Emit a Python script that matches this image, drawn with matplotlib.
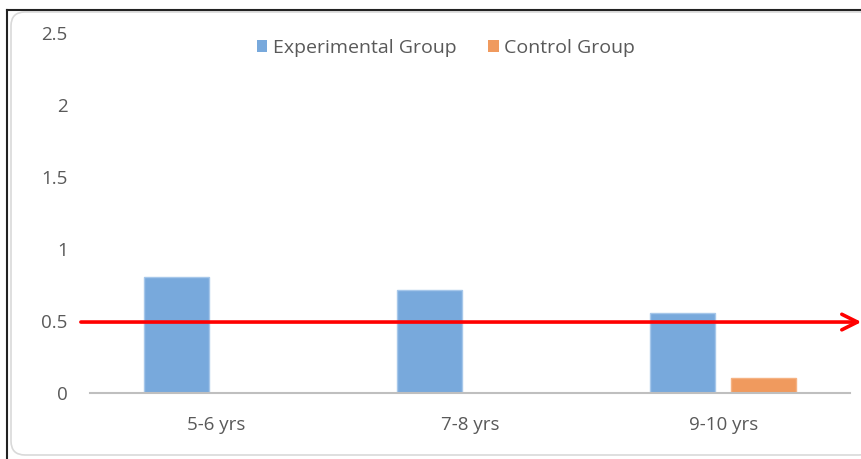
import matplotlib
matplotlib.use("Agg")
import matplotlib.pyplot as plt
import numpy as np
from matplotlib.patches import FancyBboxPatch, Patch
from matplotlib.lines import Line2D
from matplotlib.transforms import IdentityTransform

categories = ["5-6 yrs", "7-8 yrs", "9-10 yrs"]
experimental = [0.80, 0.71, 0.55]
control = [0.0, 0.0, 0.10]
threshold = 0.49
yticks = [0, 0.5, 1, 1.5, 2, 2.5]
ytick_labels = ["0", "0.5", "1", "1.5", "2", "2.5"]
series_names = ["Experimental Group", "Control Group"]

plt.rcParams['font.family'] = ['Open Sans', 'DejaVu Sans']
W, H = 862, 459
fig = plt.figure(figsize=(W / 100, H / 100), dpi=100)
fig.patch.set_facecolor("white")

# rounded chart-area border
box = FancyBboxPatch((11, 4), 862, H - 16, boxstyle="round,pad=0,rounding_size=14",
                     transform=IdentityTransform(), facecolor="white",
                     edgecolor="#D9D9D9", lw=1.2, zorder=-5)
fig.patches.append(box)
# outer black frame lines
fig.add_artist(Line2D([7, W], [H - 10, H - 10], transform=IdentityTransform(),
                      color="#222222", lw=1.5))
fig.add_artist(Line2D([7, 7], [0, H - 10], transform=IdentityTransform(),
                      color="#222222", lw=1.5))

ax = fig.add_axes([90 / W, 1 - 392.5 / H, 760 / W, (392.5 - 33) / H])
ax.set_facecolor("none")
ax.set_zorder(2)
x = np.arange(len(categories))
bw = 0.257
off = 0.16
blue = "#78A9DC"
orange = "#F09A5E"
ax.bar(x - off, experimental, bw, color=blue, edgecolor="#A6C7EA", lw=1.0, zorder=2)
ctrl_x = [xi + off for xi, v in zip(x, control) if v > 0]
ctrl_v = [v for v in control if v > 0]
ax.bar(ctrl_x, ctrl_v, bw, color=orange, edgecolor="#F5B282", lw=1.0, zorder=2)

ax.set_xlim(-0.5, 2.5)
ax.set_ylim(0, 2.5)
ax.set_yticks(yticks)
ax.set_yticklabels(ytick_labels)
ax.set_xticks(x)
ax.set_xticklabels(categories)
for s in ["top", "right", "left"]:
    ax.spines[s].set_visible(False)
ax.spines["bottom"].set_color("#BFBFBF")
ax.spines["bottom"].set_linewidth(1.5)
ax.tick_params(axis="both", length=0, labelsize=13.5, colors="#595959")
ax.tick_params(axis="y", pad=16)
ax.tick_params(axis="x", pad=17)

# red threshold arrow
ax.annotate("", xy=(2.545, threshold), xytext=(-0.536, threshold),
            xycoords="data", textcoords="data", annotation_clip=False,
            arrowprops=dict(arrowstyle="->", color="#FF0000", lw=2.6,
                            mutation_scale=28, shrinkA=0, shrinkB=0),
            zorder=5)

handles = [Patch(facecolor=blue, edgecolor="none"), Patch(facecolor=orange, edgecolor="none")]
leg = fig.legend(handles, series_names, loc="center", bbox_to_anchor=(446 / W, 1 - 48 / H),
                 ncol=2, frameon=False, fontsize=14, handlelength=0.55, handleheight=0.55,
                 handletextpad=0.3, columnspacing=1.6)
for t in leg.get_texts():
    t.set_color("#595959")

fig.savefig("out.png", dpi=100)
